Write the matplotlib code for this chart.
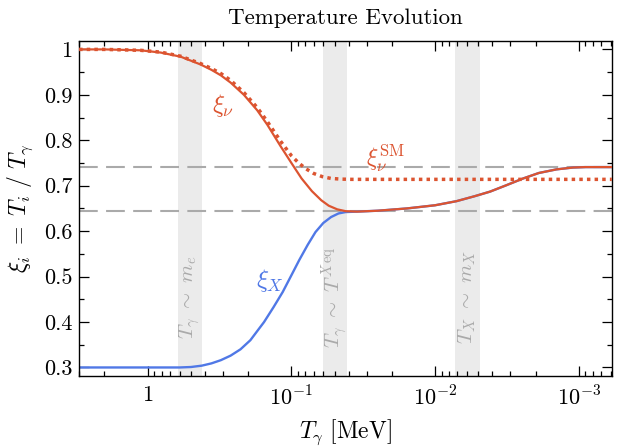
import numpy as np
import matplotlib
matplotlib.use("Agg")
import matplotlib.pyplot as plt
from matplotlib.ticker import FixedLocator, NullFormatter, LogLocator

plt.rcParams["font.family"] = "serif"
plt.rcParams["font.serif"] = ["cmr10"]
plt.rcParams["mathtext.fontset"] = "cm"
plt.rcParams["axes.unicode_minus"] = False

# photon temperature [MeV] and temperature ratios
T_nu = [3.0, 2.0, 1.12, 0.81, 0.59, 0.43, 0.36, 0.31, 0.265, 0.214, 0.173,
        0.147, 0.119, 0.100, 0.085, 0.072, 0.062, 0.055, 0.048, 0.042, 0.035,
        0.025, 0.0157, 0.010, 0.0071, 0.0053, 0.00415, 0.0032, 0.00244, 0.0019,
        0.00143, 0.0011, 0.0009, 0.00059]
xi_nu = [1.000, 1.000, 0.998, 0.993, 0.984, 0.967, 0.955, 0.943, 0.927, 0.900, 0.866,
         0.834, 0.787, 0.750, 0.716, 0.688, 0.668, 0.656, 0.648, 0.644, 0.643,
         0.645, 0.650, 0.657, 0.666, 0.677, 0.687, 0.701, 0.716, 0.728,
         0.736, 0.740, 0.741, 0.741]

T_sm = [3.0, 2.0, 1.12, 0.81, 0.59, 0.43, 0.36, 0.31, 0.265, 0.214, 0.173,
        0.147, 0.119, 0.100, 0.089, 0.079, 0.070, 0.061, 0.053, 0.045, 0.038,
        0.001, 0.00059]
xi_sm = [1.000, 1.000, 0.998, 0.994, 0.985, 0.969, 0.958, 0.947, 0.932, 0.905, 0.872,
         0.841, 0.798, 0.766, 0.750, 0.737, 0.727, 0.720, 0.716, 0.7145, 0.714,
         0.714, 0.714]

T_X = [3.0, 1.0, 0.6, 0.5, 0.42, 0.36, 0.31, 0.265, 0.226, 0.193, 0.173,
       0.155, 0.133, 0.115, 0.100, 0.088, 0.077, 0.068, 0.060, 0.053, 0.047,
       0.042, 0.035, 0.025, 0.0157, 0.010, 0.0071, 0.0053, 0.00415, 0.0032,
       0.00244, 0.0019, 0.00143, 0.0011, 0.0009, 0.00059]
xi_X = [0.300, 0.300, 0.300, 0.301, 0.304, 0.309, 0.316, 0.326, 0.340, 0.360, 0.380,
        0.400, 0.433, 0.466, 0.503, 0.537, 0.570, 0.598, 0.618, 0.631, 0.639,
        0.642, 0.643, 0.645, 0.650, 0.657, 0.666, 0.677, 0.687, 0.701,
        0.716, 0.728, 0.736, 0.740, 0.741, 0.741]

bands = [(0.42, 0.62), (0.041, 0.060), (0.0049, 0.0073)]
band_labels = [r"$T_\gamma\ \sim\ m_e$", r"$T_\gamma\ \sim\ T^{X\,\mathrm{eq}}$",
               r"$T_X\ \sim\ m_X$"]
hlines = [0.741, 0.644]

red = "#dc5430"
blue = "#5078e6"

fig = plt.figure(figsize=(6.18, 4.48), dpi=100)
ax = fig.add_axes([0.128, 0.161, 0.862, 0.748])

for (lo, hi), lab in zip(bands, band_labels):
    ax.axvspan(lo, hi, color="#ebebeb", lw=0, zorder=0)
    ax.text(np.sqrt(lo * hi), 0.455, lab, rotation=90, ha="center", va="center",
            color="#aaaaaa", fontsize=15)

for h in hlines:
    ax.axhline(h, color="#aaaaaa", lw=1.5, dashes=(9, 4), zorder=1)

ax.plot(T_X, xi_X, color=blue, lw=1.7, zorder=2)
ax.plot(T_sm, xi_sm, color=red, lw=2.5, dashes=(1, 1.2), dash_capstyle="butt", zorder=3)
ax.plot(T_nu, xi_nu, color=red, lw=1.6, zorder=4)

ax.text(0.30, 0.877, r"$\xi_\nu$", color=red, fontsize=18, ha="center", va="center")
ax.text(0.140, 0.492, r"$\xi_X$", color=blue, fontsize=18, ha="center", va="center")
ax.text(0.0222, 0.760, r"$\xi_\nu^{\mathrm{SM}}$", color=red, fontsize=17, ha="center", va="center")

ax.set_xscale("log")
ax.set_xlim(3.0, 5.9e-4)
ax.set_ylim(0.2815, 1.019)

ax.xaxis.set_major_locator(FixedLocator([1, 0.1, 0.01, 0.001]))
ax.set_xticklabels(["1", r"$10^{-1}$", r"$10^{-2}$", r"$10^{-3}$"])
ax.xaxis.set_minor_locator(LogLocator(base=10, subs=np.arange(2, 10)))
ax.xaxis.set_minor_formatter(NullFormatter())

yt = [0.3, 0.4, 0.5, 0.6, 0.7, 0.8, 0.9, 1.0]
ax.yaxis.set_major_locator(FixedLocator(yt))
ax.set_yticklabels(["0.3", "0.4", "0.5", "0.6", "0.7", "0.8", "0.9", "1"])
ax.yaxis.set_minor_locator(FixedLocator([0.35, 0.45, 0.55, 0.65, 0.75, 0.85, 0.95]))

ax.tick_params(which="both", direction="in", top=True, right=True, width=0.9,
               labelsize=16)
ax.tick_params(which="major", length=7)
ax.tick_params(which="minor", length=3.5)
ax.tick_params(axis="x", which="major", pad=7)
ax.tick_params(axis="y", which="major", pad=5)
for s in ax.spines.values():
    s.set_linewidth(1.0)

ax.set_xlabel(r"$T_\gamma\ [\mathrm{MeV}]$", fontsize=17, labelpad=6)
ax.set_ylabel(r"$\xi_i\ =\ T_i\ /\ T_\gamma$", fontsize=17, labelpad=6)
ax.set_title("Temperature Evolution", fontsize=16.5, pad=12)

fig.savefig("out.png", dpi=100)
